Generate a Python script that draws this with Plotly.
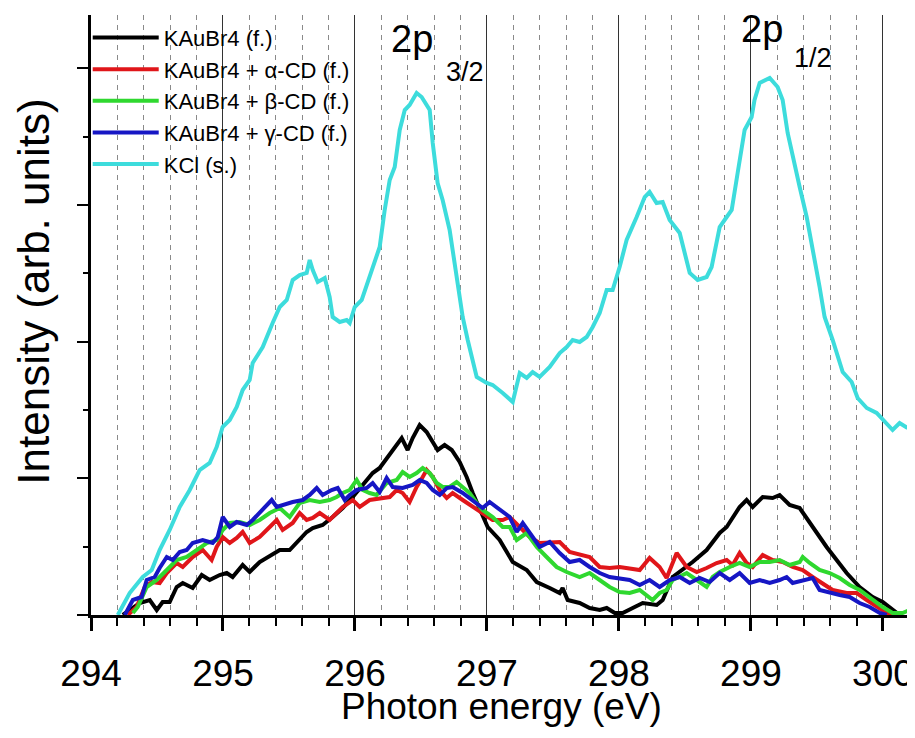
import plotly.graph_objects as go

# ---------------- data (photon energy in eV, intensity in arb. units) ----------------
kaubr4_x = [294.241, 294.369, 294.445, 294.498, 294.543, 294.596, 294.649, 294.695, 294.770, 294.839,
            294.899, 294.975, 295.028, 295.073, 295.149, 295.202, 295.278, 295.331, 295.376, 295.430,
            295.505, 295.558, 295.634, 295.680, 295.755, 295.831, 295.907, 295.983, 296.058, 296.134,
            296.187, 296.240, 296.301, 296.354, 296.399, 296.437, 296.490, 296.543, 296.589, 296.626,
            296.679, 296.733, 296.793, 296.846, 296.892, 296.945, 297.005, 297.096, 297.195, 297.301,
            297.377, 297.475, 297.551, 297.573, 297.611, 297.702, 297.778, 297.854, 297.907, 297.968,
            298.028, 298.104, 298.180, 298.286, 298.331, 298.407, 298.460, 298.558, 298.664, 298.763,
            298.816, 298.861, 298.914, 298.967, 299.013, 299.089, 299.164, 299.217, 299.293, 299.369,
            299.467, 299.573, 299.649, 299.725, 299.823, 299.922, 299.998, 300.073, 300.126]
kaubr4_y = [0, 12, 15, 5, 13, 13, 28, 32, 27, 40,
            35, 40, 42, 38, 50, 43, 53, 57, 60, 65,
            65, 72, 83, 87, 90, 98, 107, 118, 130, 142,
            147, 157, 168, 177, 165, 177, 190, 183, 173, 165,
            170, 165, 153, 138, 122, 105, 88, 75, 53, 45,
            33, 27, 22, 27, 15, 12, 7, 5, 7, 2,
            2, 7, 12, 10, 15, 38, 43, 53, 65, 82,
            88, 98, 108, 115, 108, 118, 117, 120, 110, 107,
            88, 68, 55, 42, 28, 18, 13, 5, 0]

alpha_x = [294.279, 294.346, 294.407, 294.460, 294.520, 294.574, 294.649, 294.695, 294.770, 294.846,
           294.914, 294.952, 294.998, 295.051, 295.104, 295.149, 295.202, 295.278, 295.354, 295.407,
           295.452, 295.528, 295.581, 295.634, 295.680, 295.733, 295.808, 295.861, 295.907, 295.983,
           296.036, 296.111, 296.187, 296.263, 296.316, 296.361, 296.414, 296.467, 296.513, 296.543,
           296.589, 296.642, 296.695, 296.740, 296.816, 296.892, 296.967, 297.043, 297.119, 297.172,
           297.248, 297.323, 297.399, 297.475, 297.551, 297.626, 297.702, 297.778, 297.854, 297.929,
           298.005, 298.081, 298.157, 298.232, 298.308, 298.361, 298.437, 298.513, 298.589, 298.664,
           298.740, 298.816, 298.861, 298.914, 298.967, 299.013, 299.089, 299.164, 299.240, 299.316,
           299.392, 299.467, 299.543, 299.619, 299.725, 299.801, 299.877, 299.952, 300.028, 300.073]
alpha_y = [0, 8, 28, 33, 32, 42, 52, 48, 58, 65,
           55, 68, 78, 72, 77, 83, 72, 78, 88, 95,
           85, 92, 102, 95, 97, 102, 95, 102, 108, 115,
           108, 115, 117, 118, 125, 122, 113, 128, 138, 145,
           138, 125, 117, 122, 115, 108, 102, 95, 95, 98,
           88, 78, 72, 72, 73, 63, 60, 58, 48, 47,
           48, 47, 45, 57, 48, 37, 62, 48, 43, 47,
           52, 55, 50, 62, 52, 48, 60, 55, 53, 48,
           45, 38, 32, 25, 22, 22, 15, 8, 2, 0]

beta_x = [294.317, 294.354, 294.422, 294.498, 294.574, 294.649, 294.725, 294.801, 294.877, 294.952,
          294.998, 295.051, 295.127, 295.202, 295.278, 295.354, 295.430, 295.505, 295.581, 295.657,
          295.733, 295.808, 295.861, 295.907, 295.960, 296.013, 296.058, 296.111, 296.164, 296.240,
          296.316, 296.361, 296.414, 296.467, 296.513, 296.566, 296.619, 296.664, 296.717, 296.770,
          296.816, 296.869, 296.922, 296.967, 297.043, 297.119, 297.172, 297.225, 297.301, 297.377,
          297.452, 297.528, 297.604, 297.702, 297.778, 297.854, 297.929, 298.005, 298.081, 298.157,
          298.210, 298.255, 298.308, 298.361, 298.407, 298.460, 298.513, 298.589, 298.664, 298.710,
          298.763, 298.839, 298.914, 298.990, 299.066, 299.142, 299.217, 299.293, 299.369, 299.392,
          299.445, 299.520, 299.596, 299.672, 299.748, 299.823, 299.922, 299.998, 300.073, 300.149,
          300.202]
beta_y = [2, 8, 28, 35, 45, 55, 58, 65, 72, 75,
          85, 92, 93, 90, 95, 102, 107, 98, 112, 115,
          113, 115, 118, 122, 125, 135, 125, 122, 120, 132,
          135, 143, 138, 142, 147, 142, 132, 128, 128, 133,
          128, 122, 112, 105, 98, 88, 88, 75, 82, 68,
          58, 48, 43, 38, 42, 35, 28, 23, 22, 25,
          20, 15, 22, 25, 35, 38, 42, 35, 28, 38,
          43, 48, 52, 48, 53, 53, 55, 50, 53, 58,
          52, 45, 42, 37, 30, 25, 15, 8, 2, 2,
          5]

gamma_x = [294.256, 294.317, 294.384, 294.422, 294.483, 294.520, 294.574, 294.619, 294.672, 294.725,
           294.770, 294.846, 294.922, 294.960, 294.998, 295.051, 295.104, 295.180, 295.225, 295.301,
           295.369, 295.407, 295.452, 295.528, 295.604, 295.657, 295.710, 295.755, 295.823, 295.869,
           295.922, 295.960, 296.013, 296.089, 296.134, 296.187, 296.240, 296.286, 296.361, 296.437,
           296.490, 296.543, 296.589, 296.642, 296.695, 296.740, 296.816, 296.892, 296.967, 297.020,
           297.096, 297.172, 297.225, 297.271, 297.346, 297.399, 297.475, 297.551, 297.626, 297.702,
           297.778, 297.854, 297.929, 298.005, 298.081, 298.157, 298.232, 298.308, 298.384, 298.460,
           298.536, 298.611, 298.687, 298.763, 298.839, 298.914, 298.990, 299.066, 299.142, 299.217,
           299.270, 299.316, 299.392, 299.467, 299.520, 299.596, 299.672, 299.748, 299.823, 299.899,
           299.975, 300.028]
gamma_y = [0, 15, 18, 35, 38, 47, 58, 55, 63, 65,
           72, 75, 72, 78, 98, 88, 93, 90, 95, 105,
           115, 108, 110, 113, 115, 120, 127, 120, 125, 127,
           115, 120, 125, 127, 132, 123, 137, 128, 127, 130,
           135, 132, 125, 120, 127, 128, 122, 115, 107, 113,
           105, 98, 83, 92, 78, 68, 73, 62, 53, 55,
           48, 42, 38, 37, 35, 30, 35, 28, 35, 38,
           32, 37, 33, 42, 35, 42, 32, 35, 32, 35,
           38, 32, 35, 37, 25, 22, 20, 18, 12, 8,
           2, 0]

kcl_x = [294.203, 294.293, 294.392, 294.460, 294.520, 294.596, 294.672, 294.748, 294.823, 294.899,
         294.952, 294.997, 295.051, 295.104, 295.149, 295.202, 295.225, 295.301, 295.376, 295.430,
         295.483, 295.528, 295.581, 295.634, 295.657, 295.680, 295.718, 295.771, 295.808, 295.831,
         295.884, 295.937, 295.960, 295.998, 296.051, 296.111, 296.187, 296.225, 296.263, 296.301,
         296.339, 296.377, 296.414, 296.467, 296.505, 296.566, 296.589, 296.626, 296.664, 296.717,
         296.770, 296.816, 296.854, 296.922, 296.998, 297.043, 297.119, 297.195, 297.248, 297.301,
         297.346, 297.399, 297.475, 297.551, 297.604, 297.649, 297.702, 297.755, 297.801, 297.854,
         297.907, 297.952, 298.005, 298.058, 298.134, 298.195, 298.232, 298.285, 298.331, 298.384,
         298.460, 298.498, 298.536, 298.596, 298.664, 298.702, 298.763, 298.816, 298.854, 298.899,
         298.952, 299.005, 299.027, 299.066, 299.142, 299.202, 299.240, 299.278, 299.316, 299.369,
         299.422, 299.467, 299.520, 299.558, 299.619, 299.695, 299.763, 299.808, 299.877, 299.952,
         299.998, 300.073, 300.126, 300.187]
kcl_y = [0, 22, 38, 45, 65, 85, 108, 125, 145, 152,
         168, 188, 195, 208, 225, 235, 252, 268, 292, 308,
         315, 335, 340, 342, 355, 345, 333, 337, 318, 298,
         293, 295, 292, 308, 315, 338, 368, 405, 435, 448,
         485, 505, 510, 522, 518, 505, 472, 432, 415, 385,
         335, 298, 275, 238, 232, 230, 222, 213, 242, 237,
         243, 238, 248, 262, 268, 275, 273, 278, 288, 302,
         325, 325, 348, 375, 398, 418, 423, 412, 413, 395,
         382, 362, 342, 335, 338, 348, 388, 398, 405, 442,
         485, 498, 515, 532, 537, 528, 515, 482, 458, 428,
         398, 368, 328, 298, 275, 243, 233, 217, 207, 202,
         195, 185, 192, 187]

series_names = ["KAuBr4 (f.)", "KAuBr4 + α-CD (f.)", "KAuBr4 + β-CD (f.)",
                "KAuBr4 + γ-CD (f.)", "KCl (s.)"]
series_colors = ["#000000", "#e0161a", "#2fd82f", "#1616c4", "#3ddcdc"]

x_tick_vals = [294, 295, 296, 297, 298, 299, 300]
x_tick_text = ["294", "295", "296", "297", "298", "299", "300"]

FONT = "Arial, Liberation Sans, sans-serif"

fig = go.Figure()
xs = [kaubr4_x, alpha_x, beta_x, gamma_x, kcl_x]
ys = [kaubr4_y, alpha_y, beta_y, gamma_y, kcl_y]
for name, col, x, y in zip(series_names, series_colors, xs, ys):
    fig.add_trace(go.Scatter(x=x, y=y, mode="lines", name=name,
                             line=dict(color=col, width=4)))

fig.update_layout(
    width=915, height=738,
    margin=dict(l=83, r=11, t=7, b=131, autoexpand=False),
    paper_bgcolor="white", plot_bgcolor="white",
    font=dict(family=FONT, color="black"),
    showlegend=True,
    legend=dict(x=-0.004, y=0.997, xanchor="left", yanchor="top",
                bgcolor="rgba(0,0,0,0)", font=dict(size=22, family=FONT, color="black"),
                itemwidth=66, tracegroupgap=0),
    xaxis=dict(range=[294, 300.22], tickvals=x_tick_vals, ticktext=x_tick_text,
               automargin=False,
               showline=True, linecolor="black", linewidth=2.5,
               ticks="outside", ticklen=13, tickwidth=2.5, tickcolor="black",
               tickfont=dict(size=37, family=FONT, color="black"),
               ticklabelstandoff=11,
               showgrid=True, gridcolor="#333333", gridwidth=1,
               zeroline=False,
               minor=dict(dtick=0.2, tick0=294, ticks="outside", ticklen=8, tickwidth=2,
                          tickcolor="black", showgrid=True, gridcolor="#8a8a8a",
                          griddash="5px,5px", gridwidth=1)),
    yaxis=dict(range=[0, 600], tick0=0, dtick=136.7, showticklabels=False,
               automargin=False,
               showline=True, linecolor="black", linewidth=2.5,
               ticks="outside", ticklen=11, tickwidth=2, tickcolor="black",
               showgrid=False, zeroline=False,
               minor=dict(dtick=68.35, tick0=0, ticks="outside", ticklen=5, tickwidth=2,
                          tickcolor="black", showgrid=False)),
)

fig.add_annotation(text="Intensity (arb. units)", xref="paper", yref="paper",
                   x=-0.07, y=0.538, xanchor="center", yanchor="middle",
                   textangle=-90, showarrow=False,
                   font=dict(size=44, family=FONT, color="black"))
fig.add_annotation(text="Photon energy (eV)", xref="paper", yref="paper",
                   x=0.5, y=-0.153, xanchor="center", yanchor="middle", showarrow=False,
                   font=dict(size=37, family=FONT, color="black"))

fig.add_annotation(text="2p", x=296.43, y=576, showarrow=False,
                   font=dict(size=38, family=FONT, color="black"))
fig.add_annotation(text="3/2", x=296.83, y=543, showarrow=False,
                   font=dict(size=27, family=FONT, color="black"))
fig.add_annotation(text="2p", x=299.08, y=586, showarrow=False,
                   font=dict(size=38, family=FONT, color="black"))
fig.add_annotation(text="1/2", x=299.47, y=557, showarrow=False,
                   font=dict(size=27, family=FONT, color="black"))

fig.write_html("out.html")
